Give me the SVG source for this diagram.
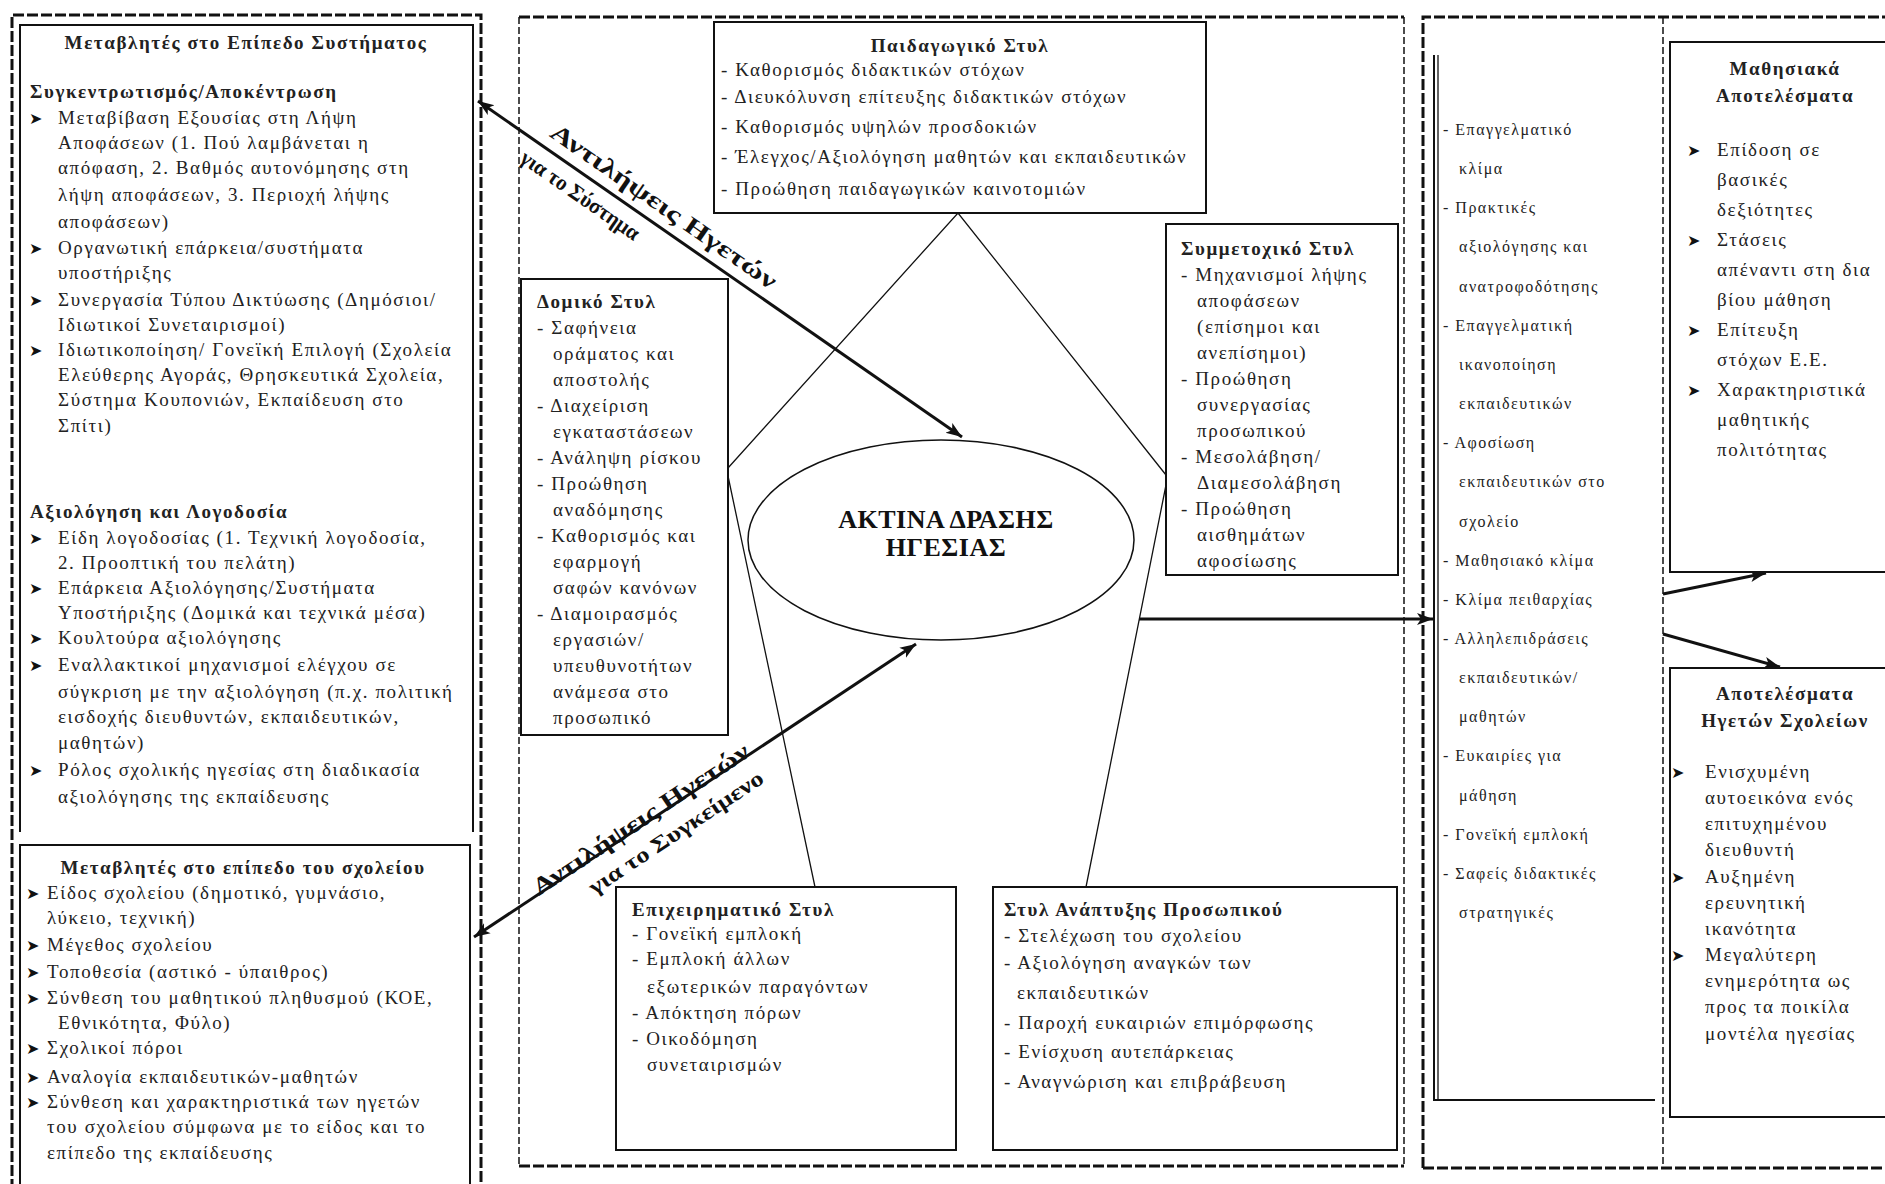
<svg xmlns="http://www.w3.org/2000/svg" width="1885" height="1184" viewBox="0 0 1885 1184">
<style>
  .t{font-family:"Liberation Serif","Times New Roman",serif;font-size:19px;letter-spacing:1.6px;fill:#222}
  .s{font-family:"Liberation Serif","Times New Roman",serif;font-size:16px;letter-spacing:1.5px;fill:#222}
  .b{font-weight:bold}
  .m{text-anchor:middle}
  .bl{font-family:"DejaVu Sans",sans-serif;font-size:16px;fill:#111}
  .lab{font-family:"Liberation Serif","Times New Roman",serif;font-weight:bold;fill:#111}
  .box{fill:#fff;stroke:#111;stroke-width:2}
  .open{fill:none;stroke:#111;stroke-width:2}
  .dk{fill:none;stroke:#111;stroke-width:3;stroke-dasharray:11 3}
  .dn{fill:none;stroke:#111;stroke-width:1.5;stroke-dasharray:7 3}
  .thin{fill:none;stroke:#111;stroke-width:1.3}
  .arr{fill:none;stroke:#111;stroke-width:3}
</style>
<defs>
  <marker id="ah" markerUnits="userSpaceOnUse" markerWidth="18" markerHeight="14" refX="16" refY="7" orient="auto-start-reverse">
    <path d="M0,1 L16,7 L0,13 L4,7 z" fill="#111"/>
  </marker>
</defs>
<rect width="1885" height="1184" fill="#fff"/>

<!-- outer dashed frames -->
<g id="frames">
  <path class="dk" d="M12,1190 V15 H481 V1190"/>
  <path class="dk" d="M519,17 H1404 M519,1166 H1404"/>
  <path class="dn" d="M519,17 V1166 M1404,17 V1166"/>
  <path class="dk" d="M1423,1168 V17 H1885 M1423,1168 H1885"/>
  <path class="dn" d="M1663,17 V1168"/>
</g>

<!-- system level variables -->
<g id="system-level">
  <path class="open" d="M20,832 V25 H473 V832"/>
  <text class="t b m" x="246" y="49">Μεταβλητές στο Επίπεδο Συστήματος</text>
  <text class="t b" x="30" y="98">Συγκεντρωτισμός/Αποκέντρωση</text>
  <text class="bl" x="29" y="124">➤</text><text class="t" x="58" y="124">Μεταβίβαση Εξουσίας στη Λήψη</text>
  <text class="t" x="58" y="149">Αποφάσεων (1. Πού λαμβάνεται η</text>
  <text class="t" x="58" y="174">απόφαση, 2. Βαθμός αυτονόμησης στη</text>
  <text class="t" x="58" y="201">λήψη αποφάσεων, 3. Περιοχή λήψης</text>
  <text class="t" x="58" y="228">αποφάσεων)</text>
  <text class="bl" x="29" y="254">➤</text><text class="t" x="58" y="254">Οργανωτική επάρκεια/συστήματα</text>
  <text class="t" x="58" y="279">υποστήριξης</text>
  <text class="bl" x="29" y="306">➤</text><text class="t" x="58" y="306">Συνεργασία Τύπου Δικτύωσης (Δημόσιοι/</text>
  <text class="t" x="58" y="331">Ιδιωτικοί Συνεταιρισμοί)</text>
  <text class="bl" x="29" y="356">➤</text><text class="t" x="58" y="356">Ιδιωτικοποίηση/ Γονεϊκή Επιλογή (Σχολεία</text>
  <text class="t" x="58" y="381">Ελεύθερης Αγοράς, Θρησκευτικά Σχολεία,</text>
  <text class="t" x="58" y="406">Σύστημα Κουπονιών, Εκπαίδευση στο</text>
  <text class="t" x="58" y="432">Σπίτι)</text>
  <text class="t b" x="30" y="518">Αξιολόγηση και Λογοδοσία</text>
  <text class="bl" x="29" y="544">➤</text><text class="t" x="58" y="544">Είδη λογοδοσίας (1. Τεχνική λογοδοσία,</text>
  <text class="t" x="58" y="569">2. Προοπτική του πελάτη)</text>
  <text class="bl" x="29" y="594">➤</text><text class="t" x="58" y="594">Επάρκεια Αξιολόγησης/Συστήματα</text>
  <text class="t" x="58" y="619">Υποστήριξης (Δομικά και τεχνικά μέσα)</text>
  <text class="bl" x="29" y="644">➤</text><text class="t" x="58" y="644">Κουλτούρα αξιολόγησης</text>
  <text class="bl" x="29" y="671">➤</text><text class="t" x="58" y="671">Εναλλακτικοί μηχανισμοί ελέγχου σε</text>
  <text class="t" x="58" y="698">σύγκριση με την αξιολόγηση (π.χ. πολιτική</text>
  <text class="t" x="58" y="723">εισδοχής διευθυντών, εκπαιδευτικών,</text>
  <text class="t" x="58" y="749">μαθητών)</text>
  <text class="bl" x="29" y="776">➤</text><text class="t" x="58" y="776">Ρόλος σχολικής ηγεσίας στη διαδικασία</text>
  <text class="t" x="58" y="803">αξιολόγησης της εκπαίδευσης</text>
</g>

<!-- school level variables -->
<g id="school-level">
  <path class="open" d="M20,1190 V845 H470 V1190"/>
  <text class="t b m" x="243" y="874">Μεταβλητές στο επίπεδο του σχολείου</text>
  <text class="bl" x="26" y="899">➤</text><text class="t" x="47" y="899">Είδος σχολείου (δημοτικό, γυμνάσιο,</text>
  <text class="t" x="47" y="924">λύκειο, τεχνική)</text>
  <text class="bl" x="26" y="951">➤</text><text class="t" x="47" y="951">Μέγεθος σχολείου</text>
  <text class="bl" x="26" y="978">➤</text><text class="t" x="47" y="978">Τοποθεσία (αστικό - ύπαιθρος)</text>
  <text class="bl" x="26" y="1004">➤</text><text class="t" x="47" y="1004">Σύνθεση του μαθητικού πληθυσμού (ΚΟΕ,</text>
  <text class="t" x="58" y="1029">Εθνικότητα, Φύλο)</text>
  <text class="bl" x="26" y="1054">➤</text><text class="t" x="47" y="1054">Σχολικοί πόροι</text>
  <text class="bl" x="26" y="1083">➤</text><text class="t" x="47" y="1083">Αναλογία εκπαιδευτικών-μαθητών</text>
  <text class="bl" x="26" y="1108">➤</text><text class="t" x="47" y="1108">Σύνθεση και χαρακτηριστικά των ηγετών</text>
  <text class="t" x="47" y="1133">του σχολείου σύμφωνα με το είδος και το</text>
  <text class="t" x="47" y="1159">επίπεδο της εκπαίδευσης</text>
</g>

<!-- connectors -->
<g id="connectors">
  <path class="thin" d="M728,468 L958,213 L1166,475 M728,476 L815,887 M1166,485 L1086,887"/>
  <line class="arr" x1="478" y1="101" x2="962" y2="437" marker-start="url(#ah)" marker-end="url(#ah)"/>
  <line class="arr" x1="474" y1="937" x2="916" y2="644" marker-start="url(#ah)" marker-end="url(#ah)"/>
  <line class="arr" x1="1139" y1="619" x2="1433" y2="619" marker-end="url(#ah)"/>
  <line class="arr" x1="1663" y1="594" x2="1766" y2="573" marker-end="url(#ah)"/>
  <line class="arr" x1="1663" y1="634" x2="1780" y2="667" marker-end="url(#ah)"/>
  <g transform="translate(476,100) rotate(34.8)">
    <text class="lab m" x="215" y="-12" font-size="24" textLength="270" lengthAdjust="spacingAndGlyphs">Αντιλήψεις Ηγετών</text>
    <text class="lab m" x="140" y="26" font-size="22" textLength="140" lengthAdjust="spacingAndGlyphs">για το Σύστημα</text>
  </g>
  <g transform="translate(474,937) rotate(-33.6)">
    <text class="lab m" x="204" y="2" font-size="24" textLength="255" lengthAdjust="spacingAndGlyphs">Αντιλήψεις Ηγετών</text>
    <text class="lab m" x="226" y="32" font-size="22" textLength="205" lengthAdjust="spacingAndGlyphs">για το Συγκείμενο</text>
  </g>
</g>

<!-- leadership radius -->
<g id="leadership-radius">
  <ellipse cx="941" cy="540" rx="193" ry="100" fill="none" stroke="#111" stroke-width="1.5"/>
  <text class="lab m" x="946" y="528" font-size="26" letter-spacing="0.5">ΑΚΤΙΝΑ ΔΡΑΣΗΣ</text>
  <text class="lab m" x="946" y="556" font-size="26" letter-spacing="0.5">ΗΓΕΣΙΑΣ</text>
</g>

<!-- pedagogical style -->
<g id="pedagogical-style">
  <rect class="box" x="714" y="22" width="492" height="191"/>
  <text class="t b m" x="960" y="52">Παιδαγωγικό Στυλ</text>
  <text class="t" x="721" y="76">- Καθορισμός διδακτικών στόχων</text>
  <text class="t" x="721" y="103">- Διευκόλυνση επίτευξης διδακτικών στόχων</text>
  <text class="t" x="721" y="133">- Καθορισμός υψηλών προσδοκιών</text>
  <text class="t" x="721" y="163">- Έλεγχος/Αξιολόγηση μαθητών και εκπαιδευτικών</text>
  <text class="t" x="721" y="195">- Προώθηση παιδαγωγικών καινοτομιών</text>
</g>

<!-- structural style -->
<g id="structural-style">
  <rect class="box" x="521" y="279" width="207" height="456"/>
  <text class="t b" x="537" y="308">Δομικό Στυλ</text>
  <text class="t" x="537" y="334">- Σαφήνεια</text>
  <text class="t" x="553" y="360">οράματος και</text>
  <text class="t" x="553" y="386">αποστολής</text>
  <text class="t" x="537" y="412">- Διαχείριση</text>
  <text class="t" x="553" y="438">εγκαταστάσεων</text>
  <text class="t" x="537" y="464">- Ανάληψη ρίσκου</text>
  <text class="t" x="537" y="490">- Προώθηση</text>
  <text class="t" x="553" y="516">αναδόμησης</text>
  <text class="t" x="537" y="542">- Καθορισμός και</text>
  <text class="t" x="553" y="568">εφαρμογή</text>
  <text class="t" x="553" y="594">σαφών κανόνων</text>
  <text class="t" x="537" y="620">- Διαμοιρασμός</text>
  <text class="t" x="553" y="646">εργασιών/</text>
  <text class="t" x="553" y="672">υπευθυνοτήτων</text>
  <text class="t" x="553" y="698">ανάμεσα στο</text>
  <text class="t" x="553" y="724">προσωπικό</text>
</g>

<!-- participative style -->
<g id="participative-style">
  <rect class="box" x="1166" y="224" width="232" height="351"/>
  <text class="t b" x="1181" y="255">Συμμετοχικό Στυλ</text>
  <text class="t" x="1181" y="281">- Μηχανισμοί λήψης</text>
  <text class="t" x="1197" y="307">αποφάσεων</text>
  <text class="t" x="1197" y="333">(επίσημοι και</text>
  <text class="t" x="1197" y="359">ανεπίσημοι)</text>
  <text class="t" x="1181" y="385">- Προώθηση</text>
  <text class="t" x="1197" y="411">συνεργασίας</text>
  <text class="t" x="1197" y="437">προσωπικού</text>
  <text class="t" x="1181" y="463">- Μεσολάβηση/</text>
  <text class="t" x="1197" y="489">Διαμεσολάβηση</text>
  <text class="t" x="1181" y="515">- Προώθηση</text>
  <text class="t" x="1197" y="541">αισθημάτων</text>
  <text class="t" x="1197" y="567">αφοσίωσης</text>
</g>

<!-- entrepreneurial style -->
<g id="entrepreneurial-style">
  <rect class="box" x="616" y="887" width="340" height="263"/>
  <text class="t b" x="632" y="916">Επιχειρηματικό Στυλ</text>
  <text class="t" x="632" y="940">- Γονεϊκή εμπλοκή</text>
  <text class="t" x="632" y="965">- Εμπλοκή άλλων</text>
  <text class="t" x="647" y="993">εξωτερικών παραγόντων</text>
  <text class="t" x="632" y="1019">- Απόκτηση πόρων</text>
  <text class="t" x="632" y="1045">- Οικοδόμηση</text>
  <text class="t" x="647" y="1071">συνεταιρισμών</text>
</g>

<!-- staff development style -->
<g id="staff-development-style">
  <rect class="box" x="993" y="887" width="404" height="263"/>
  <text class="t b" x="1004" y="916">Στυλ Ανάπτυξης Προσωπικού</text>
  <text class="t" x="1004" y="942">- Στελέχωση του σχολείου</text>
  <text class="t" x="1004" y="969">- Αξιολόγηση αναγκών των</text>
  <text class="t" x="1017" y="999">εκπαιδευτικών</text>
  <text class="t" x="1004" y="1029">- Παροχή ευκαιριών επιμόρφωσης</text>
  <text class="t" x="1004" y="1058">- Ενίσχυση αυτεπάρκειας</text>
  <text class="t" x="1004" y="1088">- Αναγνώριση και επιβράβευση</text>
</g>

<!-- school climate and processes -->
<g id="school-conditions">
  <path class="open" d="M1434,55 V1100 H1655" stroke-width="1.5"/>
  <path class="thin" d="M1438,55 V1100"/>
  <text class="s" x="1443" y="135">- Επαγγελματικό</text>
  <text class="s" x="1459" y="174">κλίμα</text>
  <text class="s" x="1443" y="213">- Πρακτικές</text>
  <text class="s" x="1459" y="252">αξιολόγησης και</text>
  <text class="s" x="1459" y="292">ανατροφοδότησης</text>
  <text class="s" x="1443" y="331">- Επαγγελματική</text>
  <text class="s" x="1459" y="370">ικανοποίηση</text>
  <text class="s" x="1459" y="409">εκπαιδευτικών</text>
  <text class="s" x="1443" y="448">- Αφοσίωση</text>
  <text class="s" x="1459" y="487">εκπαιδευτικών στο</text>
  <text class="s" x="1459" y="527">σχολείο</text>
  <text class="s" x="1443" y="566">- Μαθησιακό κλίμα</text>
  <text class="s" x="1443" y="605">- Κλίμα πειθαρχίας</text>
  <text class="s" x="1443" y="644">- Αλληλεπιδράσεις</text>
  <text class="s" x="1459" y="683">εκπαιδευτικών/</text>
  <text class="s" x="1459" y="722">μαθητών</text>
  <text class="s" x="1443" y="761">- Ευκαιρίες για</text>
  <text class="s" x="1459" y="801">μάθηση</text>
  <text class="s" x="1443" y="840">- Γονεϊκή εμπλοκή</text>
  <text class="s" x="1443" y="879">- Σαφείς διδακτικές</text>
  <text class="s" x="1459" y="918">στρατηγικές</text>
</g>

<!-- learning outcomes -->
<g id="learning-outcomes">
  <rect class="box" x="1670" y="42" width="240" height="530"/>
  <text class="t b m" x="1785" y="75">Μαθησιακά</text>
  <text class="t b m" x="1785" y="102">Αποτελέσματα</text>
  <text class="bl" x="1687" y="156">➤</text><text class="t" x="1717" y="156">Επίδοση σε</text>
  <text class="t" x="1717" y="186">βασικές</text>
  <text class="t" x="1717" y="216">δεξιότητες</text>
  <text class="bl" x="1687" y="246">➤</text><text class="t" x="1717" y="246">Στάσεις</text>
  <text class="t" x="1717" y="276">απέναντι στη δια</text>
  <text class="t" x="1717" y="306">βίου μάθηση</text>
  <text class="bl" x="1687" y="336">➤</text><text class="t" x="1717" y="336">Επίτευξη</text>
  <text class="t" x="1717" y="366">στόχων Ε.Ε.</text>
  <text class="bl" x="1687" y="396">➤</text><text class="t" x="1717" y="396">Χαρακτηριστικά</text>
  <text class="t" x="1717" y="426">μαθητικής</text>
  <text class="t" x="1717" y="456">πολιτότητας</text>
</g>

<!-- school leader outcomes -->
<g id="leader-outcomes">
  <rect class="box" x="1670" y="668" width="240" height="449"/>
  <text class="t b m" x="1785" y="700">Αποτελέσματα</text>
  <text class="t b m" x="1785" y="727">Ηγετών Σχολείων</text>
  <text class="bl" x="1671" y="778">➤</text><text class="t" x="1705" y="778">Ενισχυμένη</text>
  <text class="t" x="1705" y="804">αυτοεικόνα ενός</text>
  <text class="t" x="1705" y="830">επιτυχημένου</text>
  <text class="t" x="1705" y="856">διευθυντή</text>
  <text class="bl" x="1671" y="883">➤</text><text class="t" x="1705" y="883">Αυξημένη</text>
  <text class="t" x="1705" y="909">ερευνητική</text>
  <text class="t" x="1705" y="935">ικανότητα</text>
  <text class="bl" x="1671" y="961">➤</text><text class="t" x="1705" y="961">Μεγαλύτερη</text>
  <text class="t" x="1705" y="987">ενημερότητα ως</text>
  <text class="t" x="1705" y="1013">προς τα ποικίλα</text>
  <text class="t" x="1705" y="1040">μοντέλα ηγεσίας</text>
</g>
</svg>
